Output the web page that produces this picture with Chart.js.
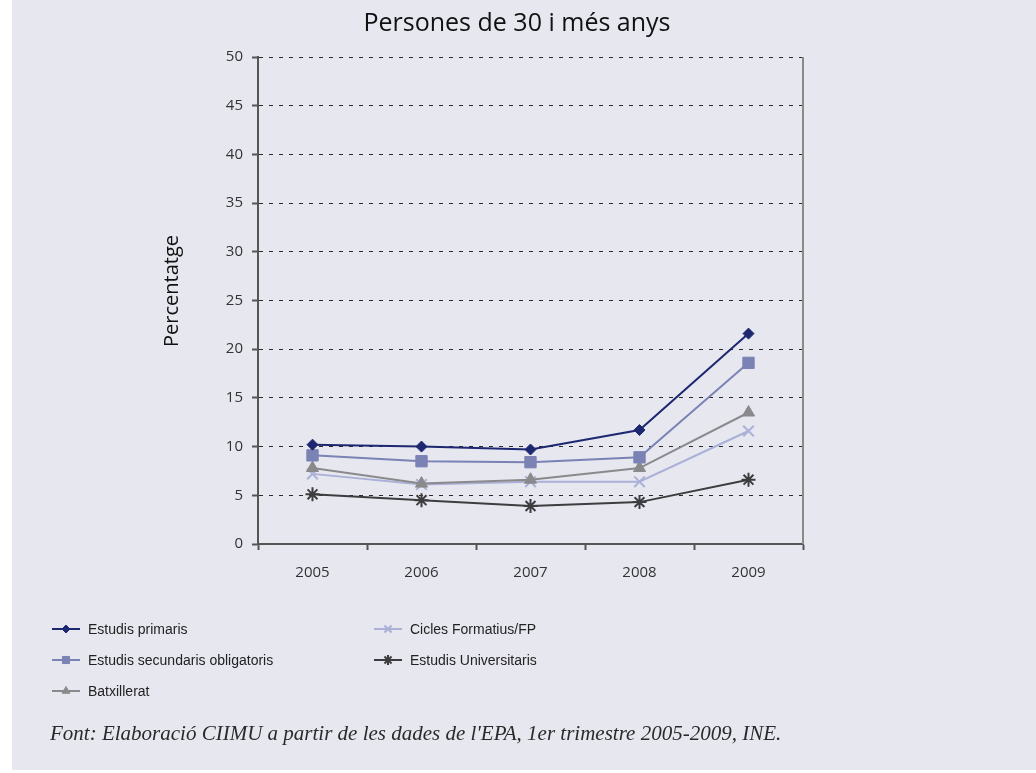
<!DOCTYPE html>
<html>
<head>
<meta charset="utf-8">
<script src="https://cdn.jsdelivr.net/npm/chart.js@4/dist/chart.umd.min.js"></script>
<style>
  html, body { margin: 0; padding: 0; background: #ffffff; }
  #panel { position: absolute; left: 12px; top: 0; width: 1024px; height: 770px; background: #e7e7f0; }
  #myChart { position: absolute; left: 0; top: 0; }
  #font { position: absolute; left: 38px; top: 721px; font-family: "Liberation Serif", serif; font-style: italic;
          font-size: 21px; color: #2a2a2a; white-space: nowrap; }
</style>
</head>
<body>
<div id="panel">
  <canvas id="myChart" width="1024" height="770"></canvas>
  <div id="font">Font: Elaboració CIIMU a partir de les dades de l'EPA, 1er trimestre 2005-2009, INE.</div>
</div>
<script>
var chartTitle = 'Persones de 30 i més anys';
var yTitle = 'Percentatge';
var years = ['2005', '2006', '2007', '2008', '2009'];
var primaris = [10.2, 10.0, 9.7, 11.7, 21.6];
var secundaris = [9.1, 8.5, 8.4, 8.9, 18.6];
var batxillerat = [7.8, 6.2, 6.6, 7.8, 13.5];
var cicles = [7.2, 6.1, 6.4, 6.4, 11.6];
var universitaris = [5.1, 4.5, 3.9, 4.3, 6.6];
var yTicks = [0, 5, 10, 15, 20, 25, 30, 35, 40, 45, 50];

// legend slots [x, y] in canvas coords, in dataset order
var legendSlots = [[40, 629], [40, 660], [40, 691], [362, 629], [362, 660]];

var columnLegend = {
    id: 'columnLegend',
    afterDraw: function(chart) {
        var ctx = chart.ctx;
        chart.data.datasets.forEach(function(ds, i) {
            var x = legendSlots[i][0], y = legendSlots[i][1];
            ctx.save();
            ctx.strokeStyle = ds.borderColor;
            ctx.lineWidth = 2;
            ctx.beginPath();
            ctx.moveTo(x, y);
            ctx.lineTo(x + 28, y);
            ctx.stroke();
            ctx.fillStyle = ds.pointBackgroundColor;
            ctx.strokeStyle = ds.borderColor;
            ctx.lineWidth = ds.pointBorderWidth;
            Chart.helpers.drawPoint(ctx, {pointStyle: ds.pointStyle, radius: ds.legendRadius, rotation: 0, borderWidth: ds.pointBorderWidth}, x + 14, y);
            ctx.fillStyle = '#222222';
            ctx.font = '14px "Liberation Sans", Arial, sans-serif';
            ctx.textBaseline = 'middle';
            ctx.fillText(ds.label, x + 36, y + 1);
            ctx.restore();
        });
    }
};

var decorations = {
    id: 'decorations',
    afterDraw: function(chart) {
        var a = chart.chartArea, ctx = chart.ctx;
        ctx.save();
        ctx.strokeStyle = '#8a8a8a';
        ctx.lineWidth = 2;
        ctx.beginPath();
        ctx.moveTo(a.right, a.top);
        ctx.lineTo(a.right, a.bottom);
        ctx.stroke();
        ctx.fillStyle = '#111111';
        ctx.font = '25px "Open Sans", sans-serif';
        ctx.textAlign = 'center';
        ctx.textBaseline = 'middle';
        ctx.fillText(chartTitle, 505, 24);
        ctx.translate(160, 291);
        ctx.rotate(-Math.PI / 2);
        ctx.font = '20px "Open Sans", sans-serif';
        ctx.fillText(yTitle, 0, 0);
        ctx.restore();
    }
};

function series(label, data, color, style, radius, legendRadius, bw) {
    return {
        label: label,
        data: data,
        borderColor: color,
        backgroundColor: color,
        pointBackgroundColor: color,
        pointBorderColor: color,
        pointStyle: style,
        pointRadius: radius,
        pointHoverRadius: radius,
        pointBorderWidth: bw,
        legendRadius: legendRadius,
        borderWidth: 2,
        tension: 0
    };
}

var ctx = document.getElementById('myChart').getContext('2d');
var myChart = new Chart(ctx, {
    type: 'line',
    data: {
        labels: years,
        datasets: [
            series('Estudis primaris', primaris, '#1e2870', 'rectRot', 5.5, 4, 1),
            series('Estudis secundaris obligatoris', secundaris, '#7b82b4', 'rect', 8, 5, 1),
            series('Batxillerat', batxillerat, '#8a8a8c', 'triangle', 7, 4.5, 1),
            series('Cicles Formatius/FP', cicles, '#abb0d6', 'crossRot', 7.5, 5, 2),
            series('Estudis Universitaris', universitaris, '#3d3d3f', 'star', 7, 5, 2)
        ]
    },
    options: {
        responsive: false,
        animation: false,
        layout: { padding: { left: 150, top: 57, right: 233, bottom: 174 } },
        plugins: {
            legend: { display: false },
            tooltip: { enabled: false },
            title: { display: false }
        },
        scales: {
            x: {
                offset: true,
                grid: { offset: true, drawOnChartArea: false, tickLength: 6, color: '#555555', tickWidth: 2 },
                border: { color: '#555555', width: 2 },
                ticks: { color: '#333333', padding: 14, font: { family: '"Open Sans", sans-serif', size: 15 } }
            },
            y: {
                min: 0,
                max: 50,
                afterBuildTicks: function(scale) { scale.ticks = yTicks.map(function(v) { return {value: v}; }); },
                afterFit: function(scale) { scale.width = 96; },
                grid: { color: '#2a2a2a', lineWidth: 1, tickLength: 6, tickColor: '#555555', tickWidth: 2, tickBorderDash: [] },
                border: { color: '#555555', width: 2, dash: [4, 6] },
                ticks: { color: '#333333', padding: 9, font: { family: '"Open Sans", sans-serif', size: 15 } }
            }
        }
    },
    plugins: [columnLegend, decorations]
});
</script>
</body>
</html>
